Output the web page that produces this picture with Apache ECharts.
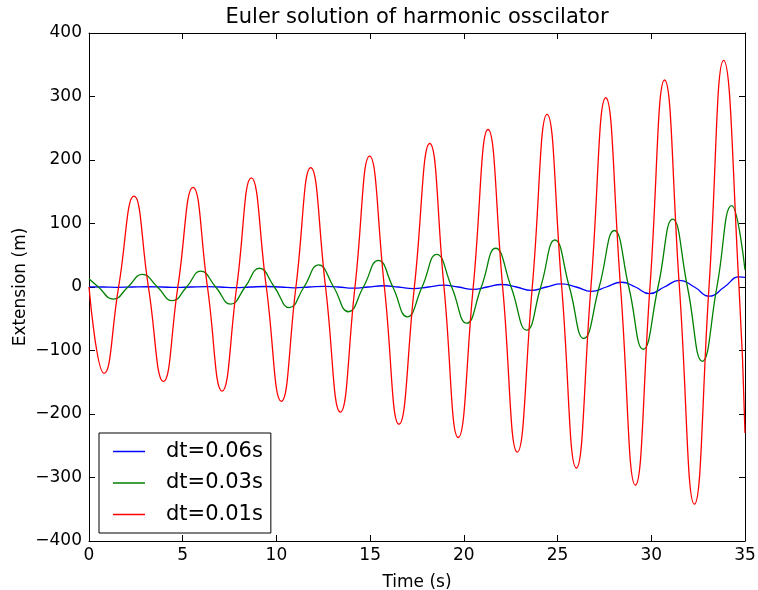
<!DOCTYPE html>
<html>
<head>
<meta charset="utf-8">
<title>Euler solution of harmonic osscilator</title>
<script src="https://cdn.jsdelivr.net/npm/echarts@6/dist/echarts.min.js"></script>
<style>
html, body { margin: 0; padding: 0; background: #fff; }
#chart { width: 758px; height: 590px; }
</style>
</head>
<body>
<div id="chart"></div>
<script>
// axis ticks
var xTicks = [0, 5, 10, 15, 20, 25, 30, 35];
var yTicks = [-400, -300, -200, -100, 0, 100, 200, 300, 400];

var names = ['dt=0.06s', 'dt=0.03s', 'dt=0.01s'];

// [time (s), extension (m)]: turning points and zero crossings
var blueData = [
	[0, 0.3], [0.75, 0], [1.5, -0.45], [2.3, 0], [3.1, 0.4], [3.9, 0], [4.65, -0.65], [5.45, 0],
	[6.25, 0.55], [7.0, 0], [7.8, -0.9], [8.6, 0], [9.4, 0.75], [10.2, 0], [10.95, -1.3], [11.75, 0],
	[12.55, 1.1], [13.3, 0], [14.1, -1.8], [14.9, 0], [15.7, 2], [16.5, 0], [17.3, -2.6], [18.1, 0],
	[18.9, 2.8], [19.7, 0], [20.5, -3.7], [21.25, 0], [22.0, 3.9], [22.8, 0], [23.6, -5.3], [24.4, 0],
	[25.2, 5], [26.0, 0], [26.8, -7], [27.6, 0], [28.4, 7.5], [29.15, 0], [29.9, -10.5], [30.7, 0],
	[31.5, 10.5], [32.3, 0], [33.1, -14.5], [33.9, 0], [34.7, 16], [35, 15]
];

var greenData = [
	[0, 13], [0.5, 0], [1.3, -19], [2.08, 0], [2.85, 20], [3.65, 0], [4.45, -21.5], [5.21, 0],
	[5.96, 25], [6.76, 0], [7.56, -27], [8.33, 0], [9.09, 29.5], [9.89, 0], [10.69, -32.5], [11.47, 0],
	[12.25, 35], [13.05, 0], [13.84, -39], [14.64, 0], [15.44, 42], [16.21, 0], [16.98, -47], [17.77, 0],
	[18.55, 51.5], [19.35, 0], [20.15, -57], [20.93, 0], [21.7, 61], [22.52, 0], [23.35, -68], [24.1, 0],
	[24.86, 74], [25.63, 0], [26.4, -81], [27.22, 0], [28.03, 89], [28.8, 0], [29.57, -98], [30.36, 0],
	[31.14, 107], [31.93, 0], [32.72, -117], [33.5, 0], [34.29, 128], [35, 27]
];

var redData = [
	[0, 0], [0.8, -136], [1.58, 0], [2.4, 143], [3.17, 0], [3.97, -149], [4.74, 0], [5.55, 157],
	[6.32, 0], [7.1, -164], [7.88, 0], [8.66, 172], [9.46, 0], [10.26, -180], [11.04, 0], [11.83, 188],
	[12.62, 0], [13.41, -197], [14.19, 0], [14.97, 206], [15.76, 0], [16.54, -216], [17.36, 0], [18.18, 226],
	[18.94, 0], [19.7, -237], [20.5, 0], [21.29, 248], [22.07, 0], [22.85, -260], [23.65, 0], [24.44, 272],
	[25.22, 0], [26.0, -285], [26.78, 0], [27.57, 298], [28.36, 0], [29.15, -312], [29.93, 0], [30.71, 326],
	[31.5, 0], [32.3, -342], [33.08, 0], [33.86, 357], [34.68, 0], [35, -230]
];

var font = 'DejaVu Sans';

function minus(v) {
	return String(v).replace('-', '\u2212');
}

function axis(pos, extra) {
	var a = {
		type: 'value',
		position: pos,
		axisLine: { show: true, onZero: false, lineStyle: { color: '#000', width: 1 } },
		axisTick: { show: true, inside: true, length: 6, lineStyle: { color: '#000' } },
		splitLine: { show: false },
		axisLabel: { show: false }
	};
	for (var k in extra) a[k] = extra[k];
	return a;
}

var xRange = { min: xTicks[0], max: xTicks[xTicks.length - 1], interval: xTicks[1] - xTicks[0] };
var yRange = { min: yTicks[0], max: yTicks[yTicks.length - 1], interval: yTicks[1] - yTicks[0] };

var chart = echarts.init(document.getElementById('chart'));
var option = {
	animation: false,
	backgroundColor: '#fff',
	textStyle: { fontFamily: font },
	title: {
		text: 'Euler solution of harmonic osscilator',
		left: 412,
		textAlign: 'center',
		top: 2,
		textStyle: { fontFamily: font, fontSize: 21, fontWeight: 'normal', color: '#000' }
	},
	// fixed plot box, axis name may sit near the bottom edge
	grid: { left: 89, right: 13, top: 33, bottom: 49, outerBoundsMode: 'none', containLabel: false },
	legend: {
		data: names,
		orient: 'vertical',
		left: 99,
		top: 433,
		padding: [8, 8, 8, 14],
		itemGap: 10.5,
		itemWidth: 32,
		itemHeight: 1.5,
		icon: 'rect',
		borderColor: '#000',
		borderWidth: 1,
		textStyle: { fontFamily: font, fontSize: 21, color: '#000', padding: [0, 0, 0, 16] }
	},
	xAxis: [
		axis('bottom', {
			min: xRange.min, max: xRange.max, interval: xRange.interval,
			axisLabel: { show: true, color: '#000', fontSize: 17, margin: 6, fontFamily: font },
			name: 'Time (s)',
			nameLocation: 'middle',
			nameGap: 33,
			nameMoveOverlap: false,
			nameTextStyle: { color: '#000', fontSize: 17, fontFamily: font }
		}),
		axis('top', { min: xRange.min, max: xRange.max, interval: xRange.interval })
	],
	yAxis: [
		axis('left', {
			min: yRange.min, max: yRange.max, interval: yRange.interval,
			axisLabel: { show: true, color: '#000', fontSize: 17, margin: 7, fontFamily: font, formatter: minus },
			name: 'Extension (m)',
			nameLocation: 'middle',
			nameGap: 60,
			nameMoveOverlap: false,
			nameTextStyle: { color: '#000', fontSize: 17, fontFamily: font }
		}),
		axis('right', { min: yRange.min, max: yRange.max, interval: yRange.interval })
	],
	series: [
		{ name: names[0], type: 'line', data: blueData, smooth: 0.5, symbol: 'none', color: '#0000ff', lineStyle: { width: 1.3 } },
		{ name: names[1], type: 'line', data: greenData, smooth: 0.5, symbol: 'none', color: '#008000', lineStyle: { width: 1.3 } },
		{ name: names[2], type: 'line', data: redData, smooth: 0.5, symbol: 'none', color: '#ff0000', lineStyle: { width: 1.3 } }
	]
};
chart.setOption(option);
</script>
</body>
</html>
